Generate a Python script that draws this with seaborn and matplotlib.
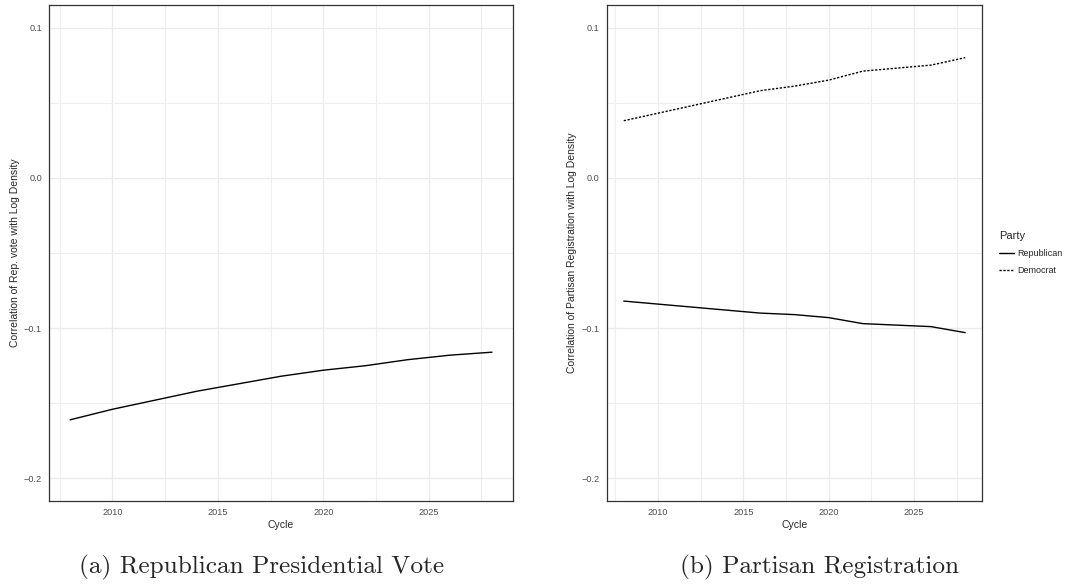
import numpy as np
import pandas as pd
import matplotlib
matplotlib.use("Agg")
import matplotlib.pyplot as plt
import seaborn as sns

# Datos
cycles = [2008, 2010, 2012, 2014, 2016, 2018, 2020, 2022, 2024, 2026, 2028]
rep_vote_corr = [-0.161, -0.154, -0.148, -0.142, -0.137, -0.132, -0.128, -0.125, -0.121, -0.118, -0.116]
rep_reg_corr = [-0.082, -0.084, -0.086, -0.088, -0.090, -0.091, -0.093, -0.097, -0.098, -0.099, -0.103]
dem_reg_corr = [0.038, 0.043, 0.048, 0.053, 0.058, 0.061, 0.065, 0.071, 0.073, 0.075, 0.080]
parties = ["Republican", "Democrat"]
y_ticks = [-0.2, -0.1, 0.0, 0.1]
x_ticks = [2010, 2015, 2020, 2025]


def style_axes(ax, ylabel):
    ax.set_xlim(2007, 2029)
    ax.set_ylim(-0.215, 0.115)
    ax.set_xticks(x_ticks)
    ax.set_xticks([2007.5, 2012.5, 2017.5, 2022.5, 2027.5], minor=True)
    ax.set_yticks(y_ticks)
    ax.set_yticks([-0.15, -0.05, 0.05], minor=True)
    ax.set_yticklabels(["\u22120.2", "\u22120.1", "0.0", "0.1"])
    ax.grid(which="major", color="#ebebeb", lw=0.9)
    ax.grid(which="minor", color="#eeeeee", lw=0.8)
    ax.set_axisbelow(True)
    ax.tick_params(which="major", direction="out", length=3, width=0.6,
                   color="#333333", labelsize=6.6, labelcolor="#4d4d4d", pad=2)
    ax.tick_params(which="minor", length=0)
    for s in ax.spines.values():
        s.set_color("#333333")
        s.set_linewidth(0.9)
    ax.set_xlabel("Cycle", fontsize=7.5, labelpad=2)
    ax.set_ylabel(ylabel, fontsize=7.5, labelpad=3)


def main():
    sns.set_theme(style="white")
    plt.rcParams["font.family"] = ["Liberation Sans", "DejaVu Sans"]

    fig = plt.figure(figsize=(10.9, 5.88), dpi=100)
    ax1 = fig.add_axes([0.045, 0.148, 0.4257, 0.8435])
    ax2 = fig.add_axes([0.5566, 0.148, 0.3446, 0.8435])

    # Panel (a)
    df_a = pd.DataFrame({"Cycle": cycles, "Corr": rep_vote_corr})
    sns.lineplot(data=df_a, x="Cycle", y="Corr", ax=ax1, color="black", lw=1.0)
    style_axes(ax1, "Correlation of Rep. vote with Log Density")

    # Panel (b)
    df_b = pd.DataFrame({
        "Cycle": cycles * 2,
        "Corr": rep_reg_corr + dem_reg_corr,
        "Party": [parties[0]] * len(cycles) + [parties[1]] * len(cycles),
    })
    sns.lineplot(data=df_b, x="Cycle", y="Corr", style="Party", hue="Party",
                 palette=["black", "black"], style_order=parties, hue_order=parties,
                 dashes={"Republican": "", "Democrat": (1.6, 1.2)},
                 ax=ax2, lw=1.0)
    style_axes(ax2, "Correlation of Partisan Registration with Log Density")
    leg = ax2.legend(title="Party", loc="center left", bbox_to_anchor=(1.035, 0.5),
                     frameon=False, fontsize=6.5, title_fontsize=8,
                     handlelength=1.6, handletextpad=0.4, labelspacing=0.9,
                     borderaxespad=0)
    leg._legend_box.align = "left"

    # Subtítulos
    fig.text(0.2404, 0.035, "(a) Republican Presidential Vote", ha="center",
             va="center", fontsize=18.2, family="cmr10")
    fig.text(0.7514, 0.035, "(b) Partisan Registration", ha="center",
             va="center", fontsize=18.2, family="cmr10")

    fig.savefig("out.png", dpi=100)
    plt.close(fig)


if __name__ == "__main__":
    main()
